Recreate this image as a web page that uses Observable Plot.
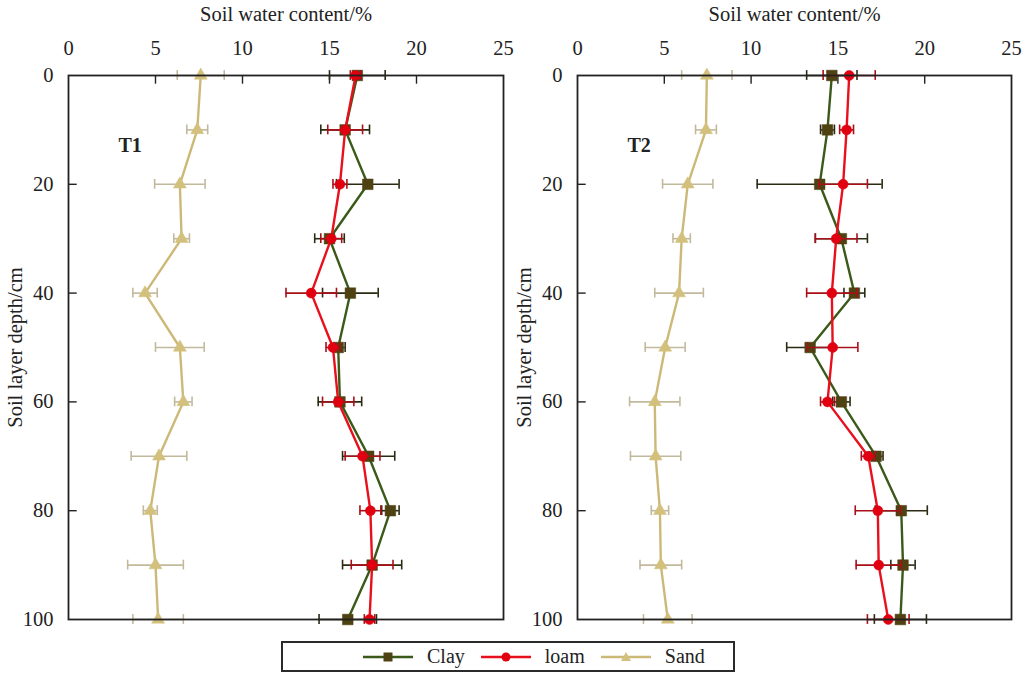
<!DOCTYPE html>
<html><head><meta charset="utf-8">
<script src="https://cdn.jsdelivr.net/npm/d3@7"></script>
<script src="https://cdn.jsdelivr.net/npm/@observablehq/plot@0.6"></script>
<style>
body{margin:0;background:#fff;font-family:"Liberation Serif","Times New Roman",Times,"DejaVu Serif",serif;}
svg, svg text{font-family:"Liberation Serif","Times New Roman",Times,"DejaVu Serif",serif !important;}
#charts svg{overflow:visible;}
#wrap{position:relative;width:1022px;height:675px;overflow:hidden;}
#charts{display:flex;}
#legend{position:absolute;left:281px;top:641px;width:450px;height:27px;border:2px solid #2a2a2a;display:flex;align-items:center;font-size:20px;color:#222;}
#legend .it{display:flex;align-items:center;}
#legend svg{display:block;}
</style></head><body>
<div id="wrap"><div id="charts"></div><div id="legend"></div></div>
<script>
const depth = [0, 10, 20, 30, 40, 50, 60, 70, 80, 90, 100];
const soils = ["Clay", "loam", "Sand"];
const xTicks = [0, 5, 10, 15, 20, 25];
const yTicks = [0, 20, 40, 60, 80, 100];

// T1
const t1Clay    = [16.6, 15.9, 17.2, 15.0, 16.2, 15.5, 15.6, 17.25, 18.5, 17.45, 16.05];
const t1ClayErr = [1.6, 1.4, 1.8, 0.85, 1.6, 0.4, 1.25, 1.5, 0.5, 1.7, 1.65];
const t1Loam    = [16.5, 15.9, 15.6, 15.1, 13.95, 15.2, 15.5, 16.9, 17.35, 17.45, 17.3];
const t1LoamErr = [0.3, 1.0, 0.4, 0.6, 1.45, 0.4, 0.9, 1.0, 0.6, 1.2, 0.3];
const t1Sand    = [7.6, 7.4, 6.4, 6.5, 4.4, 6.4, 6.6, 5.2, 4.7, 5.0, 5.15];
const t1SandErr = [1.35, 0.6, 1.45, 0.45, 0.7, 1.4, 0.5, 1.6, 0.4, 1.6, 1.45];

// T2
const t2Clay    = [14.65, 14.4, 13.95, 15.2, 15.95, 13.4, 15.2, 17.2, 18.65, 18.75, 18.6];
const t2ClayErr = [1.45, 0.4, 3.6, 1.5, 0.6, 1.35, 0.5, 0.4, 1.5, 0.7, 1.5];
const t2Loam    = [15.65, 15.5, 15.3, 14.9, 14.65, 14.7, 14.4, 16.75, 17.3, 17.35, 17.9];
const t2LoamErr = [1.5, 0.4, 1.4, 1.2, 1.45, 1.45, 0.4, 0.4, 1.3, 1.3, 1.2];
const t2Sand    = [7.45, 7.4, 6.35, 6.0, 5.85, 5.05, 4.45, 4.5, 4.75, 4.8, 5.2];
const t2SandErr = [1.45, 0.6, 1.45, 0.5, 1.4, 1.15, 1.45, 1.45, 0.5, 1.2, 1.4];

const style = {
  Clay: {line: "#3b5a1a", fill: "#4e4212", err: "#2b2b14", symbol: "square", r: 6.0},
  loam: {line: "#e8101c", fill: "#e00010", err: "#a81018", symbol: "circle", r: 5.0},
  Sand: {line: "#cdb977", fill: "#d2c07c", err: "#c2b99c", symbol: "triangle", r: 4.8}
};

function rows(vals, errs, soil) {
  return depth.map((d, i) => ({soil, depth: d, v: vals[i], e: errs[i], lo: vals[i] - errs[i], hi: vals[i] + errs[i]}));
}

function seriesMarks(data, soil) {
  const s = style[soil];
  return [
    Plot.ruleY(data, {y: "depth", x1: "lo", x2: "hi", stroke: s.err, strokeWidth: 1.6}),
    Plot.ruleX(data, {x: "lo", y1: d => d.depth - 0.9, y2: d => d.depth + 0.9, stroke: s.err, strokeWidth: 1.6}),
    Plot.ruleX(data, {x: "hi", y1: d => d.depth - 0.9, y2: d => d.depth + 0.9, stroke: s.err, strokeWidth: 1.6}),
    Plot.line(data, {x: "v", y: "depth", stroke: s.line, strokeWidth: 2.4, curve: "linear"}),
    Plot.dot(data, {x: "v", y: "depth", symbol: () => s.symbol, r: s.r, fill: s.fill, stroke: s.fill, strokeWidth: 0.5})
  ];
}

function panel(name, clay, clayE, loam, loamE, sand, sandE, ml, mr) {
  const dc = rows(clay, clayE, "Clay"), dl = rows(loam, loamE, "loam"), ds = rows(sand, sandE, "Sand");
  return Plot.plot({
    width: 511, height: 632,
    marginLeft: ml, marginRight: mr, marginTop: 75, marginBottom: 13,
    style: {fontFamily: "'Liberation Serif', 'Times New Roman', serif", fontSize: "18px", color: "#222", background: "transparent", overflow: "visible"},
    x: {domain: [0, 25]},
    y: {domain: [0, 100], reverse: true},
    symbol: {type: "identity"},
    marks: [
      Plot.axisX({anchor: "top", ticks: xTicks, tickSize: 0, tickPadding: 21, tickFormat: d3.format("d"),
        label: "Soil water content/%", labelAnchor: "center", labelOffset: 69, labelArrow: "none", fontSize: 20.5}),
      Plot.axisY({anchor: "left", ticks: yTicks, tickSize: 0, tickPadding: 15, tickFormat: d3.format("d"),
        label: "Soil layer depth/cm", labelAnchor: "center", labelOffset: 61, labelArrow: "none", fontSize: 20.5}),
      Plot.ruleX(xTicks.slice(1, -1), {y1: 0, y2: 1.6, stroke: "#222", strokeWidth: 1.4}),
      Plot.ruleY(yTicks.slice(1, -1), {x1: 0, x2: 0.5, stroke: "#222", strokeWidth: 1.4}),
      ...seriesMarks(ds, "Sand"),
      ...seriesMarks(dc, "Clay"),
      ...seriesMarks(dl, "loam"),
      Plot.text([name], {frameAnchor: "top-left", dx: 50, dy: 62, fontWeight: "bold", fontSize: 20, fill: "#222"}),
      Plot.frame({stroke: "#222", strokeWidth: 1.8})
    ]
  });
}

const charts = document.getElementById("charts");
charts.append(panel("T1", t1Clay, t1ClayErr, t1Loam, t1LoamErr, t1Sand, t1SandErr, 68, 8));
charts.append(panel("T2", t2Clay, t2ClayErr, t2Loam, t2LoamErr, t2Sand, t2SandErr, 66, 11));

// legend
const legend = document.getElementById("legend");
const pad = document.createElement("div"); pad.style.width = "78px"; legend.append(pad);
const symPath = {
  square: "M-4.5,-4.5h9v9h-9z",
  circle: "M-4.5,0a4.5,4.5 0 1,0 9,0a4.5,4.5 0 1,0 -9,0",
  triangle: "M0,-5L5,4H-5z"
};
soils.forEach((soil, i) => {
  const s = style[soil];
  const it = document.createElement("div"); it.className = "it";
  it.innerHTML = `<svg width="54" height="20"><line x1="2" x2="52" y1="10" y2="10" stroke="${s.line}" stroke-width="2.6"/>` +
    `<path transform="translate(27,10)" d="${symPath[s.symbol]}" fill="${s.fill}"/></svg>` +
    `<span style="margin-left:12px;margin-right:${i < 2 ? 14 : 0}px">${soil}</span>`;
  legend.append(it);
});
</script>
</body></html>
